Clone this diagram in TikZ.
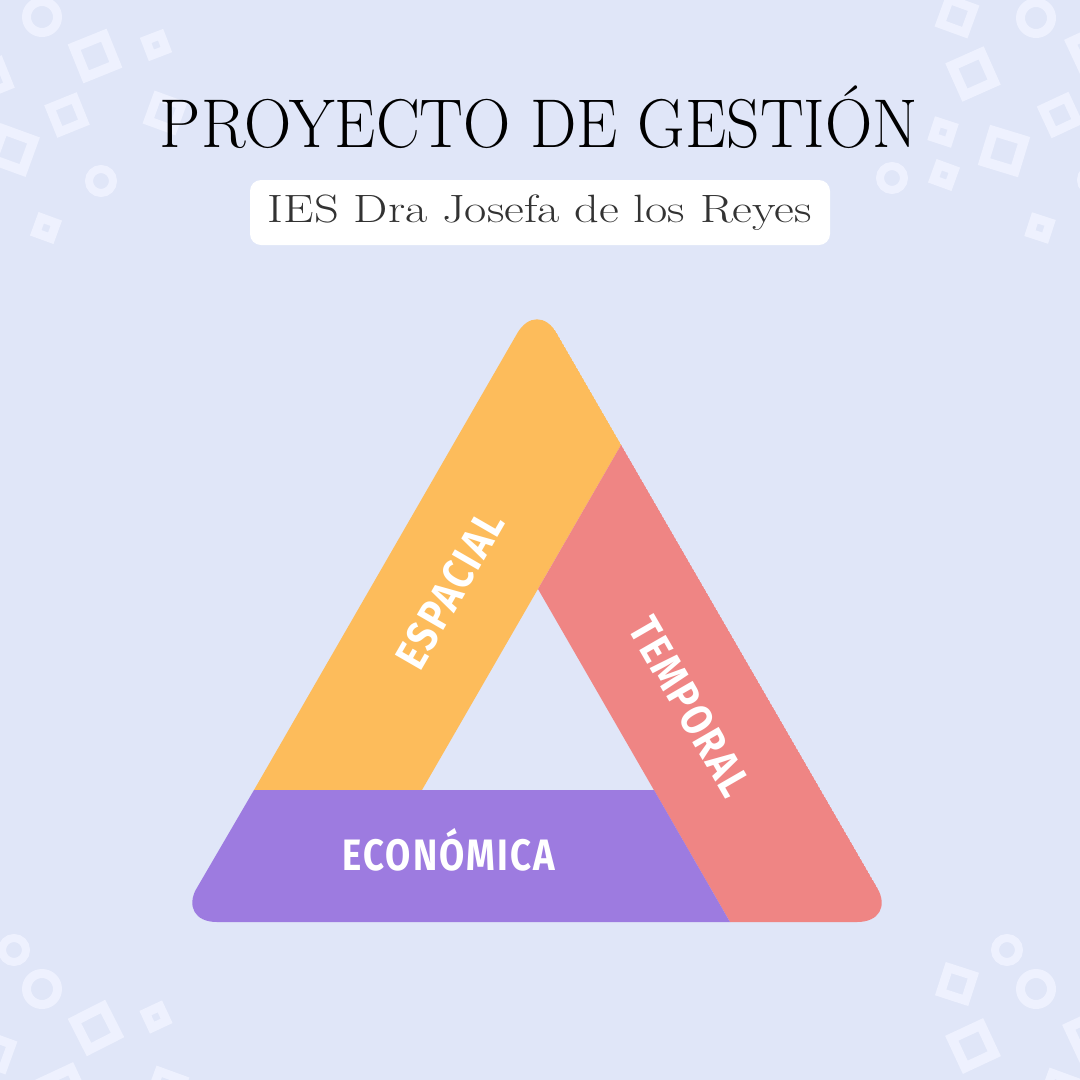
\documentclass[tikz,border=0pt]{standalone}
\usepackage{fontspec}
\usepackage{graphicx}
\setmainfont{Latin Modern Roman}
\newfontfamily\labelfont{Fira Sans}[LetterSpace=6]
\definecolor{bgcol}{HTML}{E0E6F8}
\definecolor{decocol}{HTML}{EEF1FE}
\definecolor{orangecol}{HTML}{FDBC5B}
\definecolor{redcol}{HTML}{EF8584}
\definecolor{purplecol}{HTML}{9D7BE0}
\definecolor{subcol}{HTML}{333333}
\tikzset{
  deco/.style={draw=decocol, fill=none, inner sep=0pt, outer sep=0pt},
  sqL/.style={deco, rectangle, minimum size=32pt, line width=10pt},
  sqM/.style={deco, rectangle, minimum size=26pt, line width=9pt},
  sqS/.style={deco, rectangle, minimum size=16pt, line width=9pt},
  ringL/.style={deco, circle, minimum size=31pt, line width=9pt},
  ringS/.style={deco, circle, minimum size=24pt, line width=8pt},
  bandlabel/.style={text=white, inner sep=0pt, font=\labelfont\bfseries\fontsize{44}{44}\selectfont},
}
\begin{document}
\begin{tikzpicture}[x=1pt, y=-1pt]
\useasboundingbox (0,0) rectangle (1080,1080);
\fill[bgcol] (0,0) rectangle (1080,1080);
\begin{scope}
\clip (0,0) rectangle (1080,1080);
% top-left decorations
\node[ringL] (d1) at (42,17) {};
\node[sqL, rotate=22] (d2) at (95,56) {};
\node[sqS, rotate=21] (d3) at (156,45) {};
\node[sqM, rotate=22] (d4) at (67,115) {};
\node[sqL, rotate=-20] (d5) at (13,150) {};
\node[ringS] (d6) at (101,181) {};
\node[sqS, rotate=-20] (d7) at (46,228) {};
\node[sqM, rotate=-20] (d8) at (165,113) {};
\node[sqM, rotate=22] (d9) at (-8,78) {};
% top-right decorations
\node[sqM, rotate=-20] (d10) at (957,16) {};
\node[ringL] (d11) at (1036,18) {};
\node[sqL, rotate=24] (d12) at (973,74) {};
\node[sqM, rotate=25] (d13) at (1060,115) {};
\node[sqS, rotate=-18] (d14) at (943,132) {};
\node[sqL, rotate=-17] (d15) at (1004,151) {};
\node[sqS, rotate=-20] (d16) at (944,175) {};
\node[ringS] (d17) at (892,178) {};
\node[sqS, rotate=-18] (d18) at (1040,228) {};
\node[sqL, rotate=25] (d19) at (1092,50) {};
\node[ringS] (d20) at (1093,180) {};
% bottom-left decorations
\node[ringS] (d21) at (14,950) {};
\node[ringL] (d22) at (42,989) {};
\node[sqL, rotate=27] (d23) at (96,1028) {};
\node[sqS, rotate=25] (d24) at (156,1017) {};
\node[sqM, rotate=-20] (d25) at (-5,1052) {};
\node[sqL, rotate=25] (d26) at (63,1090) {};
\node[sqM, rotate=-20] (d27) at (167,1088) {};
% bottom-right decorations
\node[ringS] (d28) at (1007,950) {};
\node[ringL] (d29) at (1036,989) {};
\node[sqM, rotate=-18] (d30) at (957,984) {};
\node[sqL, rotate=25] (d31) at (973,1046) {};
\node[sqL, rotate=25] (d32) at (1090,1035) {};
\node[sqM, rotate=-20] (d33) at (1060,1090) {};
\end{scope}
% title
\node[anchor=base, inner sep=0pt, text=black] (title) at (539,147)
  {\resizebox{758pt}{\height}{\fontsize{69}{69}\selectfont PROYECTO DE GESTIÓN}};
\fill[white, rounded corners=11pt] (250,180) rectangle (830,245);
\node[anchor=base, inner sep=0pt, text=subcol] (subtitle) at (540,222)
  {\resizebox{544pt}{\height}{\fontsize{39.5}{39.5}\selectfont IES Dra Josefa de los Reyes}};
% triangle
\begin{scope}
\clip[rounded corners=40pt] (537,299) -- (897,922) -- (177,922) -- cycle;
\fill[orangecol] (254,790) -- (537,299) -- (621.1,444.8) -- (422,790) -- cycle;
\fill[redcol] (538,589) -- (621.1,444.8) -- (897,922) -- (730,922) -- cycle;
\fill[purplecol] (254,790) -- (654,790) -- (730,922) -- (177,922) -- cycle;
\end{scope}
\node[bandlabel, anchor=center, rotate=60] (espacial) at (450,590)
  {\resizebox{172pt}{\height}{ESPACIAL}};
\node[bandlabel, anchor=center, rotate=-60] (temporal) at (690,707)
  {\resizebox{198pt}{\height}{TEMPORAL}};
\node[bandlabel, anchor=base] (economica) at (449,870)
  {\resizebox{213pt}{\height}{ECONÓMICA}};
\end{tikzpicture}
\end{document}
